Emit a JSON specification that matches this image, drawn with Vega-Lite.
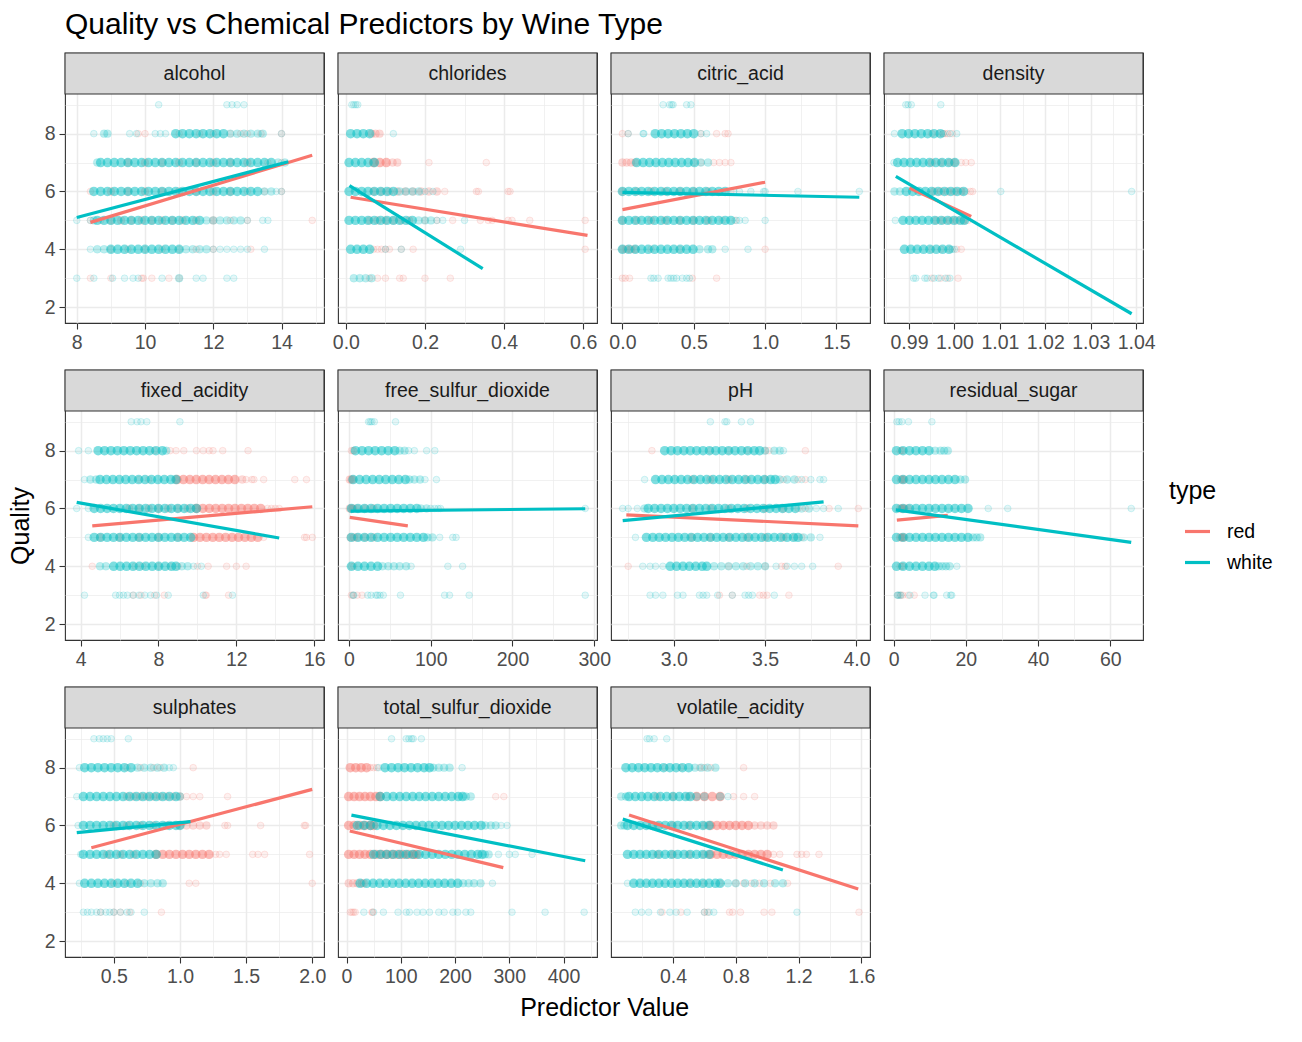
{
"$schema":"https://vega.github.io/schema/vega-lite/v6.json",
"padding":{"left":8,"top":9,"right":5,"bottom":5},
"title":{"text":"Quality vs Chemical Predictors by Wine Type","anchor":"start","frame":"group","fontSize":30,"fontWeight":"normal","color":"#000000","offset":12},
"bounds":"flush",
"spacing":{"row":47,"column":14},
"columns":4,
"resolve":{"scale":{"color":"shared"},"legend":{"color":"shared"}},
"datasets":{
"lns":[
{"p":"alcohol","type":"red","x":8.4,"q":4.93},{"p":"alcohol","type":"red","x":14.9,"q":7.25},{"p":"alcohol","type":"white","x":8.0,"q":5.10},{"p":"alcohol","type":"white","x":14.2,"q":7.03},
{"p":"chlorides","type":"red","x":0.012,"q":5.80},{"p":"chlorides","type":"red","x":0.611,"q":4.48},{"p":"chlorides","type":"white","x":0.009,"q":6.2},{"p":"chlorides","type":"white","x":0.346,"q":3.33},
{"p":"citric_acid","type":"red","x":0,"q":5.37},{"p":"citric_acid","type":"red","x":1.0,"q":6.32},{"p":"citric_acid","type":"white","x":0,"q":5.97},{"p":"citric_acid","type":"white","x":1.66,"q":5.80},
{"p":"density","type":"red","x":0.9901,"q":6.12},{"p":"density","type":"red","x":1.0037,"q":5.14},{"p":"density","type":"white","x":0.9871,"q":6.52},{"p":"density","type":"white","x":1.039,"q":1.77},
{"p":"fixed_acidity","type":"red","x":4.6,"q":5.40},{"p":"fixed_acidity","type":"red","x":15.9,"q":6.06},{"p":"fixed_acidity","type":"white","x":3.8,"q":6.21},{"p":"fixed_acidity","type":"white","x":14.2,"q":4.98},
{"p":"free_sulfur_dioxide","type":"red","x":1,"q":5.69},{"p":"free_sulfur_dioxide","type":"red","x":72,"q":5.40},{"p":"free_sulfur_dioxide","type":"white","x":2,"q":5.91},{"p":"free_sulfur_dioxide","type":"white","x":289,"q":5.99},
{"p":"pH","type":"red","x":2.74,"q":5.78},{"p":"pH","type":"red","x":4.01,"q":5.40},{"p":"pH","type":"white","x":2.72,"q":5.58},{"p":"pH","type":"white","x":3.82,"q":6.23},
{"p":"residual_sugar","type":"red","x":0.9,"q":5.60},{"p":"residual_sugar","type":"red","x":15.0,"q":5.76},{"p":"residual_sugar","type":"white","x":0.6,"q":5.95},{"p":"residual_sugar","type":"white","x":65.8,"q":4.83},
{"p":"sulphates","type":"red","x":0.33,"q":5.23},{"p":"sulphates","type":"red","x":2.0,"q":7.25},{"p":"sulphates","type":"white","x":0.22,"q":5.75},{"p":"sulphates","type":"white","x":1.08,"q":6.13},
{"p":"total_sulfur_dioxide","type":"red","x":6,"q":5.81},{"p":"total_sulfur_dioxide","type":"red","x":289,"q":4.54},{"p":"total_sulfur_dioxide","type":"white","x":9,"q":6.36},{"p":"total_sulfur_dioxide","type":"white","x":440,"q":4.78},
{"p":"volatile_acidity","type":"red","x":0.12,"q":6.36},{"p":"volatile_acidity","type":"red","x":1.58,"q":3.80},{"p":"volatile_acidity","type":"white","x":0.08,"q":6.22},{"p":"volatile_acidity","type":"white","x":1.1,"q":4.46}
],
"pts":[
{"p":"alcohol","t":"red","q":8,"n":1,"x":[9.8,10.0,11.0,11.6,12.0,12.5,12.8,13.0,13.4,14.0]},
{"p":"alcohol","t":"red","q":7,"n":3,"x":[9.5,10.0,10.5,11.0,11.5,12.0,12.5,13.0]},
{"p":"alcohol","t":"red","q":7,"n":1,"x":[13.6,14.0]},
{"p":"alcohol","t":"red","q":6,"n":3,"x":[9.0,9.5,10.0,10.5,11.0,11.5,12.0,12.5]},
{"p":"alcohol","t":"red","q":6,"n":1,"x":[8.4,13.0,13.5,14.0]},
{"p":"alcohol","t":"red","q":5,"n":3,"x":[9.0,9.3,9.6,9.9,10.2,10.5,10.8,11.1,11.5,12.0]},
{"p":"alcohol","t":"red","q":5,"n":1,"x":[8.4,8.7,12.5,13.0,14.9]},
{"p":"alcohol","t":"red","q":4,"n":1,"x":[9.0,9.5,10.0,10.5,11.0,11.5,12.0,13.1]},
{"p":"alcohol","t":"red","q":3,"n":1,"x":[8.4,9.0,9.9,9.95,10.2,10.7,11.0]},
{"p":"alcohol","t":"white","q":9,"n":1,"x":[10.4,12.4,12.55,12.7,12.9]},
{"p":"alcohol","t":"white","q":8,"n":1,"x":[8.5,9.55,9.75,10.3,10.45,10.6,14.0]},
{"p":"alcohol","t":"white","q":8,"n":3,"x":[8.8,8.9,12.5,12.7,12.9,13.1,13.3,13.45]},
{"p":"alcohol","t":"white","q":8,"n":6,"x":[10.9,11.1,11.3,11.5,11.7,11.9,12.1,12.3]},
{"p":"alcohol","t":"white","q":7,"n":6,"x":[8.7,8.9,9.1,9.3,9.5,9.7,9.9,10.1,10.3,10.5,10.7,10.9,11.1,11.3,11.5,11.7,11.9,12.1,12.3,12.5,12.7,12.9,13.1,13.3,13.5,13.7]},
{"p":"alcohol","t":"white","q":7,"n":3,"x":[8.6,13.9,14.1]},
{"p":"alcohol","t":"white","q":6,"n":6,"x":[8.5,8.7,8.9,9.1,9.3,9.5,9.7,9.9,10.1,10.3,10.5,10.7,10.9,11.1,11.3,11.5,11.7,11.9,12.1,12.3,12.5,12.7,12.9,13.1,13.3]},
{"p":"alcohol","t":"white","q":6,"n":3,"x":[13.5,13.7]},
{"p":"alcohol","t":"white","q":6,"n":1,"x":[13.85,14.0]},
{"p":"alcohol","t":"white","q":5,"n":6,"x":[8.6,8.8,9.0,9.2,9.4,9.6,9.8,10.0,10.2,10.4,10.6,10.8,11.0,11.2,11.4,11.6]},
{"p":"alcohol","t":"white","q":5,"n":3,"x":[8.5,11.8,12.0,12.2,12.4,12.6,12.8]},
{"p":"alcohol","t":"white","q":5,"n":1,"x":[8.0,8.4,13.0,13.45,13.6]},
{"p":"alcohol","t":"white","q":4,"n":6,"x":[9.0,9.2,9.4,9.6,9.8,10.0,10.2,10.4,10.6,10.8,11.0]},
{"p":"alcohol","t":"white","q":4,"n":3,"x":[8.6,8.8,11.2,11.4,11.6,11.8]},
{"p":"alcohol","t":"white","q":4,"n":1,"x":[8.4,12.0,12.2,12.4,12.6,12.8,13.0,13.5]},
{"p":"alcohol","t":"white","q":3,"n":1,"x":[8.0,8.5,9.05,9.4,9.65,9.8,10.5,11.5,11.7,12.4,12.6]},
{"p":"alcohol","t":"white","q":3,"n":3,"x":[11.0]},

{"p":"chlorides","t":"red","q":8,"n":3,"x":[0.065,0.075,0.085]},
{"p":"chlorides","t":"red","q":7,"n":6,"x":[0.07,0.086,0.102]},
{"p":"chlorides","t":"red","q":7,"n":3,"x":[0.118,0.13]},
{"p":"chlorides","t":"red","q":7,"n":1,"x":[0.21,0.355]},
{"p":"chlorides","t":"red","q":6,"n":3,"x":[0.07,0.09,0.11,0.13,0.15,0.17,0.19,0.21,0.23]},
{"p":"chlorides","t":"red","q":6,"n":1,"x":[0.25,0.33,0.335,0.41,0.415]},
{"p":"chlorides","t":"red","q":5,"n":3,"x":[0.06,0.08,0.1,0.12,0.14,0.16]},
{"p":"chlorides","t":"red","q":5,"n":1,"x":[0.2,0.23,0.27,0.34,0.36,0.37,0.41,0.42,0.465,0.605]},
{"p":"chlorides","t":"red","q":4,"n":1,"x":[0.07,0.08,0.09,0.1,0.11,0.14,0.17,0.605]},
{"p":"chlorides","t":"red","q":3,"n":1,"x":[0.06,0.08,0.1,0.136,0.145,0.2,0.264]},
{"p":"chlorides","t":"white","q":9,"n":1,"x":[0.015,0.02,0.025,0.03]},
{"p":"chlorides","t":"white","q":8,"n":6,"x":[0.012,0.028,0.044,0.06]},
{"p":"chlorides","t":"white","q":8,"n":1,"x":[0.12]},
{"p":"chlorides","t":"white","q":7,"n":6,"x":[0.008,0.024,0.04,0.056,0.072]},
{"p":"chlorides","t":"white","q":6,"n":6,"x":[0.008,0.024,0.04,0.056,0.072,0.088,0.104,0.12]},
{"p":"chlorides","t":"white","q":6,"n":3,"x":[0.136,0.152,0.168,0.184]},
{"p":"chlorides","t":"white","q":6,"n":1,"x":[0.2,0.22]},
{"p":"chlorides","t":"white","q":5,"n":6,"x":[0.008,0.024,0.04,0.056,0.072,0.088,0.104,0.12,0.136,0.152,0.168]},
{"p":"chlorides","t":"white","q":5,"n":3,"x":[0.184,0.2,0.215]},
{"p":"chlorides","t":"white","q":5,"n":1,"x":[0.23,0.245,0.3]},
{"p":"chlorides","t":"white","q":4,"n":6,"x":[0.012,0.028,0.044,0.06]},
{"p":"chlorides","t":"white","q":4,"n":1,"x":[0.1,0.14,0.29]},
{"p":"chlorides","t":"white","q":3,"n":3,"x":[0.02,0.035,0.05,0.065]},

{"p":"citric_acid","t":"red","q":8,"n":1,"x":[0,0.04,0.55,0.66,0.72,0.74]},
{"p":"citric_acid","t":"red","q":7,"n":3,"x":[0,0.03,0.06,0.09]},
{"p":"citric_acid","t":"red","q":7,"n":1,"x":[0.5,0.55,0.64,0.68,0.72,0.76]},
{"p":"citric_acid","t":"red","q":6,"n":3,"x":[0,0.1,0.2,0.3,0.4,0.5,0.6]},
{"p":"citric_acid","t":"red","q":6,"n":1,"x":[0.7,0.76]},
{"p":"citric_acid","t":"red","q":5,"n":3,"x":[0,0.1,0.2,0.3,0.4,0.5,0.6]},
{"p":"citric_acid","t":"red","q":5,"n":1,"x":[0.7,0.79]},
{"p":"citric_acid","t":"red","q":4,"n":3,"x":[0,0.03,0.06,0.09]},
{"p":"citric_acid","t":"red","q":4,"n":1,"x":[0.2,0.4,1.0]},
{"p":"citric_acid","t":"red","q":3,"n":1,"x":[0,0.02,0.05,0.49,0.66]},
{"p":"citric_acid","t":"white","q":9,"n":1,"x":[0.285,0.33,0.345,0.355,0.45,0.48]},
{"p":"citric_acid","t":"white","q":8,"n":6,"x":[0.23,0.275,0.32,0.365,0.41,0.455,0.5]},
{"p":"citric_acid","t":"white","q":8,"n":1,"x":[0.04,0.145,0.15,0.55,0.59]},
{"p":"citric_acid","t":"white","q":7,"n":6,"x":[0.1,0.145,0.19,0.235,0.28,0.325,0.37,0.415,0.46,0.505]},
{"p":"citric_acid","t":"white","q":7,"n":3,"x":[0.55,0.6]},
{"p":"citric_acid","t":"white","q":6,"n":6,"x":[0,0.045,0.09,0.135,0.18,0.225,0.27,0.315,0.36,0.405,0.45,0.495,0.54,0.585,0.63,0.675,0.72]},
{"p":"citric_acid","t":"white","q":6,"n":1,"x":[0.78,0.82,0.9,0.99,1.0,1.23,1.66]},
{"p":"citric_acid","t":"white","q":5,"n":6,"x":[0,0.045,0.09,0.135,0.18,0.225,0.27,0.315,0.36,0.405,0.45,0.495,0.54,0.585,0.63,0.675,0.72,0.76]},
{"p":"citric_acid","t":"white","q":5,"n":1,"x":[0.8,0.82,0.86,1.0]},
{"p":"citric_acid","t":"white","q":4,"n":6,"x":[0,0.045,0.09,0.135,0.18,0.225,0.27,0.315,0.36,0.405,0.45,0.495]},
{"p":"citric_acid","t":"white","q":4,"n":3,"x":[0.54,0.6,0.63]},
{"p":"citric_acid","t":"white","q":4,"n":1,"x":[0.72,0.88]},
{"p":"citric_acid","t":"white","q":3,"n":1,"x":[0.2,0.22,0.25,0.32,0.34,0.36,0.38,0.42,0.45,0.47]},

{"p":"density","t":"red","q":8,"n":1,"x":[0.995,0.9965,0.9975,0.998,0.9985,0.9995]},
{"p":"density","t":"red","q":7,"n":3,"x":[0.995,0.997,0.999,1.0]},
{"p":"density","t":"red","q":7,"n":1,"x":[1.0015,1.0025,1.0037]},
{"p":"density","t":"red","q":6,"n":3,"x":[0.9955,0.997,0.9985,1.0,1.0015]},
{"p":"density","t":"red","q":6,"n":1,"x":[1.0025,1.0035,1.004]},
{"p":"density","t":"red","q":5,"n":3,"x":[0.996,0.9975,0.999,1.0005,1.002]},
{"p":"density","t":"red","q":5,"n":1,"x":[1.003]},
{"p":"density","t":"red","q":4,"n":1,"x":[0.995,0.997,0.999,1.0005,1.0015]},
{"p":"density","t":"red","q":3,"n":1,"x":[0.995,0.997,0.9985,1.0008]},
{"p":"density","t":"white","q":9,"n":1,"x":[0.9893,0.9898,0.9905,0.997]},
{"p":"density","t":"white","q":8,"n":6,"x":[0.9885,0.9899,0.9913,0.9927,0.9941,0.9955,0.9969]},
{"p":"density","t":"white","q":8,"n":1,"x":[0.9868,0.9975,0.999,1.0005]},
{"p":"density","t":"white","q":7,"n":6,"x":[0.9875,0.9889,0.9903,0.9917,0.9931,0.9945,0.9959,0.9973,0.9987,1.0001]},
{"p":"density","t":"white","q":7,"n":1,"x":[0.9867]},
{"p":"density","t":"white","q":6,"n":3,"x":[0.9868,0.988]},
{"p":"density","t":"white","q":6,"n":6,"x":[0.9894,0.9908,0.9922,0.9936,0.995,0.9964,0.9978,0.9992,1.0006,1.002]},
{"p":"density","t":"white","q":6,"n":1,"x":[1.0102,1.039]},
{"p":"density","t":"white","q":5,"n":1,"x":[0.987]},
{"p":"density","t":"white","q":5,"n":6,"x":[0.9887,0.9901,0.9915,0.9929,0.9943,0.9957,0.9971,0.9985,0.9999,1.0013,1.0022]},
{"p":"density","t":"white","q":4,"n":6,"x":[0.989,0.9904,0.9918,0.9932,0.9946,0.996,0.9974,0.9988]},
{"p":"density","t":"white","q":4,"n":1,"x":[0.9995,1.0]},
{"p":"density","t":"white","q":3,"n":1,"x":[0.991,0.9915,0.9935,0.994,0.9955,0.9965,0.998,0.999]},

{"p":"fixed_acidity","t":"red","q":8,"n":1,"x":[7.8,8.6,8.9,9.3,9.95,10.3,10.6,10.8,11.3,12.6]},
{"p":"fixed_acidity","t":"red","q":7,"n":1,"x":[7.0,7.5,12.5,12.8,12.9,13.4,15.0,15.6]},
{"p":"fixed_acidity","t":"red","q":7,"n":6,"x":[8.95,9.28,9.61,9.94,10.27,10.6,10.93,11.26,11.59,11.92]},
{"p":"fixed_acidity","t":"red","q":7,"n":3,"x":[12.3]},
{"p":"fixed_acidity","t":"red","q":6,"n":3,"x":[6.5,7.0,7.5,8.0,8.5,9.0,9.5]},
{"p":"fixed_acidity","t":"red","q":6,"n":6,"x":[9.95,10.28,10.61,10.94,11.27,11.6,11.93,12.26,12.59,12.92,13.25]},
{"p":"fixed_acidity","t":"red","q":6,"n":1,"x":[13.6,13.8,14.0,14.2]},
{"p":"fixed_acidity","t":"red","q":5,"n":3,"x":[5.0,6.0,7.0,8.0,9.0]},
{"p":"fixed_acidity","t":"red","q":5,"n":6,"x":[9.8,10.13,10.46,10.79,11.12,11.45,11.78,12.11,12.44,12.77,13.1]},
{"p":"fixed_acidity","t":"red","q":5,"n":1,"x":[13.4,15.5,15.6,15.9]},
{"p":"fixed_acidity","t":"red","q":4,"n":1,"x":[4.6,6.8,7.2,8.0,8.6,9.0,10.0,10.55,11.5,12.0,12.5]},
{"p":"fixed_acidity","t":"red","q":3,"n":1,"x":[6.7,7.1,7.8,8.3,10.4,10.45,11.6]},
{"p":"fixed_acidity","t":"white","q":9,"n":1,"x":[6.6,6.9,7.1,7.4,9.1]},
{"p":"fixed_acidity","t":"white","q":8,"n":1,"x":[3.9,4.4]},
{"p":"fixed_acidity","t":"white","q":8,"n":6,"x":[4.9,5.23,5.56,5.89,6.22,6.55,6.88,7.21,7.54,7.87,8.2]},
{"p":"fixed_acidity","t":"white","q":8,"n":3,"x":[8.4]},
{"p":"fixed_acidity","t":"white","q":7,"n":1,"x":[4.2]},
{"p":"fixed_acidity","t":"white","q":7,"n":3,"x":[4.5,4.8]},
{"p":"fixed_acidity","t":"white","q":7,"n":6,"x":[5.0,5.33,5.66,5.99,6.32,6.65,6.98,7.31,7.64,7.97,8.3,8.63,8.9]},
{"p":"fixed_acidity","t":"white","q":6,"n":1,"x":[3.8,4.4]},
{"p":"fixed_acidity","t":"white","q":6,"n":6,"x":[4.7,5.03,5.36,5.69,6.02,6.35,6.68,7.01,7.34,7.67,8.0,8.33,8.66,8.99,9.32,9.65,9.95]},
{"p":"fixed_acidity","t":"white","q":5,"n":1,"x":[4.4]},
{"p":"fixed_acidity","t":"white","q":5,"n":6,"x":[4.7,5.03,5.36,5.69,6.02,6.35,6.68,7.01,7.34,7.67,8.0,8.33,8.66,8.99,9.32,9.65]},
{"p":"fixed_acidity","t":"white","q":4,"n":3,"x":[5.0,5.3,9.2,9.5]},
{"p":"fixed_acidity","t":"white","q":4,"n":6,"x":[5.7,6.03,6.36,6.69,7.02,7.35,7.68,8.01,8.34,8.67,8.9]},
{"p":"fixed_acidity","t":"white","q":4,"n":1,"x":[9.8,10.2]},
{"p":"fixed_acidity","t":"white","q":3,"n":1,"x":[4.2,5.8,6.0,6.2,6.4,6.7,7.0,7.3,7.6,7.9,8.5,10.3,11.8]},

{"p":"free_sulfur_dioxide","t":"red","q":8,"n":1,"x":[3,5,6]},
{"p":"free_sulfur_dioxide","t":"red","q":7,"n":3,"x":[1,3,5]},
{"p":"free_sulfur_dioxide","t":"red","q":6,"n":3,"x":[1,3,5,10,20,30]},
{"p":"free_sulfur_dioxide","t":"red","q":5,"n":3,"x":[2,6,10,20,30]},
{"p":"free_sulfur_dioxide","t":"red","q":4,"n":1,"x":[3,6]},
{"p":"free_sulfur_dioxide","t":"red","q":3,"n":1,"x":[3,5,10,16]},
{"p":"free_sulfur_dioxide","t":"white","q":9,"n":1,"x":[24,26,28,31,57]},
{"p":"free_sulfur_dioxide","t":"white","q":8,"n":6,"x":[8,16,24,32,40,48,56]},
{"p":"free_sulfur_dioxide","t":"white","q":8,"n":3,"x":[62,68]},
{"p":"free_sulfur_dioxide","t":"white","q":8,"n":1,"x":[73,80,95,105]},
{"p":"free_sulfur_dioxide","t":"white","q":7,"n":6,"x":[5,13,21,29,37,45,53,61,69]},
{"p":"free_sulfur_dioxide","t":"white","q":7,"n":3,"x":[74,80,87]},
{"p":"free_sulfur_dioxide","t":"white","q":7,"n":1,"x":[93,107]},
{"p":"free_sulfur_dioxide","t":"white","q":6,"n":6,"x":[3,11,19,27,35,43,51,59,67,75,83]},
{"p":"free_sulfur_dioxide","t":"white","q":6,"n":3,"x":[88,95]},
{"p":"free_sulfur_dioxide","t":"white","q":6,"n":1,"x":[100,105,109,112,289]},
{"p":"free_sulfur_dioxide","t":"white","q":5,"n":6,"x":[3,11,19,27,35,43,51,59,67,75,83,91]},
{"p":"free_sulfur_dioxide","t":"white","q":5,"n":3,"x":[96,102]},
{"p":"free_sulfur_dioxide","t":"white","q":5,"n":1,"x":[111,127,131]},
{"p":"free_sulfur_dioxide","t":"white","q":4,"n":6,"x":[3,11,19,27,35]},
{"p":"free_sulfur_dioxide","t":"white","q":4,"n":3,"x":[41,48,55,62,70]},
{"p":"free_sulfur_dioxide","t":"white","q":4,"n":1,"x":[76,121,139]},
{"p":"free_sulfur_dioxide","t":"white","q":3,"n":1,"x":[5,6,23,27,33,35,38,42,63,117,123,147,289]},

{"p":"pH","t":"red","q":8,"n":1,"x":[2.88,3.2,3.3,3.4,3.5,3.52,3.72]},
{"p":"pH","t":"red","q":7,"n":3,"x":[3.1,3.2,3.3,3.4,3.5]},
{"p":"pH","t":"red","q":7,"n":1,"x":[3.6,3.68,3.72]},
{"p":"pH","t":"red","q":6,"n":3,"x":[3.1,3.2,3.3,3.4,3.5,3.6]},
{"p":"pH","t":"red","q":6,"n":1,"x":[3.68,3.72,3.85,4.01]},
{"p":"pH","t":"red","q":5,"n":3,"x":[3.1,3.2,3.3,3.4,3.5,3.6]},
{"p":"pH","t":"red","q":5,"n":1,"x":[3.66,3.7]},
{"p":"pH","t":"red","q":4,"n":1,"x":[2.75,3.3,3.4,3.5,3.59,3.61,3.9]},
{"p":"pH","t":"red","q":3,"n":1,"x":[3.25,3.32,3.47,3.49,3.51,3.63]},
{"p":"pH","t":"white","q":9,"n":1,"x":[3.2,3.28,3.29,3.37,3.42]},
{"p":"pH","t":"white","q":8,"n":6,"x":[2.95,2.985,3.02,3.055,3.09,3.125,3.16,3.195,3.23,3.265,3.3,3.335,3.37,3.405,3.44,3.47]},
{"p":"pH","t":"white","q":8,"n":3,"x":[3.5,3.55,3.58]},
{"p":"pH","t":"white","q":8,"n":1,"x":[3.6]},
{"p":"pH","t":"white","q":7,"n":1,"x":[2.84,3.7,3.75,3.8,3.82]},
{"p":"pH","t":"white","q":7,"n":6,"x":[2.9,2.935,2.97,3.005,3.04,3.075,3.11,3.145,3.18,3.215,3.25,3.285,3.32,3.355,3.39,3.425,3.46,3.495,3.53,3.555]},
{"p":"pH","t":"white","q":7,"n":3,"x":[3.58,3.62,3.66]},
{"p":"pH","t":"white","q":6,"n":1,"x":[2.72,2.75,2.8,3.78,3.82,3.9]},
{"p":"pH","t":"white","q":6,"n":3,"x":[2.84,3.7,3.74]},
{"p":"pH","t":"white","q":6,"n":6,"x":[2.86,2.895,2.93,2.965,3.0,3.035,3.07,3.105,3.14,3.175,3.21,3.245,3.28,3.315,3.35,3.385,3.42,3.455,3.49,3.525,3.56,3.595,3.63,3.665]},
{"p":"pH","t":"white","q":5,"n":1,"x":[2.79,3.8]},
{"p":"pH","t":"white","q":5,"n":6,"x":[2.85,2.885,2.92,2.955,2.99,3.025,3.06,3.095,3.13,3.165,3.2,3.235,3.27,3.305,3.34,3.375,3.41,3.445,3.48,3.515,3.55,3.585,3.62,3.655,3.68]},
{"p":"pH","t":"white","q":5,"n":3,"x":[3.71,3.75]},
{"p":"pH","t":"white","q":4,"n":1,"x":[2.83,2.87,2.9,2.94,3.56,3.62,3.66,3.7,3.76]},
{"p":"pH","t":"white","q":4,"n":6,"x":[2.98,3.015,3.05,3.085,3.12,3.155,3.18]},
{"p":"pH","t":"white","q":4,"n":3,"x":[3.22,3.26,3.3,3.34,3.38,3.42,3.46,3.5]},
{"p":"pH","t":"white","q":3,"n":1,"x":[2.87,2.9,2.94,3.02,3.05,3.14,3.16,3.18,3.24,3.32,3.39,3.41,3.43,3.55]},

{"p":"residual_sugar","t":"red","q":8,"n":1,"x":[1.8,2.2,2.6]},
{"p":"residual_sugar","t":"red","q":7,"n":3,"x":[2.0,2.5,3.0]},
{"p":"residual_sugar","t":"red","q":6,"n":3,"x":[1.8,2.2,2.6,3.0,4.0]},
{"p":"residual_sugar","t":"red","q":5,"n":3,"x":[1.8,2.2,2.6,3.0]},
{"p":"residual_sugar","t":"red","q":4,"n":1,"x":[1.8,2.2,2.6]},
{"p":"residual_sugar","t":"red","q":3,"n":1,"x":[1.2,2.0,2.5,4.0,5.7]},
{"p":"residual_sugar","t":"white","q":9,"n":1,"x":[0.9,1.5,2.3,4.1,10.6]},
{"p":"residual_sugar","t":"white","q":8,"n":6,"x":[0.8,2.6,4.4,6.2,8.0,9.8]},
{"p":"residual_sugar","t":"white","q":8,"n":3,"x":[11.5,13.0,14.0,15.0]},
{"p":"residual_sugar","t":"white","q":7,"n":6,"x":[0.8,2.6,4.4,6.2,8.0,9.8,11.6,13.4,15.2,17.0]},
{"p":"residual_sugar","t":"white","q":7,"n":3,"x":[18.5,19.8]},
{"p":"residual_sugar","t":"white","q":6,"n":6,"x":[0.8,2.6,4.4,6.2,8.0,9.8,11.6,13.4,15.2,17.0,18.8,20.6]},
{"p":"residual_sugar","t":"white","q":6,"n":1,"x":[26.2,31.6,65.8]},
{"p":"residual_sugar","t":"white","q":5,"n":6,"x":[0.8,2.6,4.4,6.2,8.0,9.8,11.6,13.4,15.2,17.0,18.8,20.6]},
{"p":"residual_sugar","t":"white","q":5,"n":3,"x":[22.0,23.0,24.0]},
{"p":"residual_sugar","t":"white","q":4,"n":6,"x":[0.8,2.6,4.4,6.2,8.0,9.8,11.4]},
{"p":"residual_sugar","t":"white","q":4,"n":3,"x":[12.5,13.5,14.5,15.5]},
{"p":"residual_sugar","t":"white","q":4,"n":1,"x":[17.5]},
{"p":"residual_sugar","t":"white","q":3,"n":1,"x":[1.0,1.2,1.6,2.0,4.5,8.7,11.0,11.2,14.7,15.8,16.1]},

{"p":"sulphates","t":"red","q":8,"n":1,"x":[0.6,0.7,0.8,0.85,1.1]},
{"p":"sulphates","t":"red","q":7,"n":3,"x":[0.6,0.65,0.7,0.75,0.8,0.85,0.9,0.95,1.0]},
{"p":"sulphates","t":"red","q":7,"n":1,"x":[1.05,1.1,1.15,1.36]},
{"p":"sulphates","t":"red","q":6,"n":3,"x":[0.5,0.6,0.7,0.8,0.9,1.0,1.05,1.1,1.15,1.2]},
{"p":"sulphates","t":"red","q":6,"n":1,"x":[1.34,1.36,1.61,1.94,1.95]},
{"p":"sulphates","t":"red","q":5,"n":3,"x":[0.45,0.55,0.65]},
{"p":"sulphates","t":"red","q":5,"n":6,"x":[0.82,0.87,0.92,0.97,1.02,1.07,1.12,1.17,1.22]},
{"p":"sulphates","t":"red","q":5,"n":1,"x":[1.27,1.3,1.35,1.55,1.59,1.64,1.98]},
{"p":"sulphates","t":"red","q":4,"n":1,"x":[0.5,0.6,0.7,1.07,1.12,2.0]},
{"p":"sulphates","t":"red","q":3,"n":1,"x":[0.4,0.5,0.55,0.62,0.86]},
{"p":"sulphates","t":"white","q":9,"n":1,"x":[0.35,0.39,0.42,0.45,0.48,0.61]},
{"p":"sulphates","t":"white","q":8,"n":1,"x":[0.24,0.92,0.95]},
{"p":"sulphates","t":"white","q":8,"n":6,"x":[0.28,0.33,0.38,0.43,0.48,0.53,0.58,0.63]},
{"p":"sulphates","t":"white","q":8,"n":3,"x":[0.68,0.73,0.78,0.83,0.88]},
{"p":"sulphates","t":"white","q":7,"n":1,"x":[0.22]},
{"p":"sulphates","t":"white","q":7,"n":6,"x":[0.27,0.32,0.37,0.42,0.47,0.52,0.57,0.62,0.67,0.72,0.77,0.82,0.87,0.92,0.97]},
{"p":"sulphates","t":"white","q":7,"n":3,"x":[1.0]},
{"p":"sulphates","t":"white","q":6,"n":1,"x":[0.23]},
{"p":"sulphates","t":"white","q":6,"n":6,"x":[0.27,0.32,0.37,0.42,0.47,0.52,0.57,0.62,0.67,0.72,0.77,0.82,0.87,0.92,0.97,1.0]},
{"p":"sulphates","t":"white","q":5,"n":1,"x":[0.25]},
{"p":"sulphates","t":"white","q":5,"n":6,"x":[0.27,0.32,0.37,0.42,0.47,0.52,0.57,0.62,0.67,0.72,0.77,0.82]},
{"p":"sulphates","t":"white","q":4,"n":1,"x":[0.24]},
{"p":"sulphates","t":"white","q":4,"n":6,"x":[0.28,0.33,0.38,0.43,0.48,0.53,0.58,0.63,0.68]},
{"p":"sulphates","t":"white","q":4,"n":3,"x":[0.73,0.78,0.83,0.87]},
{"p":"sulphates","t":"white","q":3,"n":1,"x":[0.27,0.3,0.33,0.37,0.4,0.44,0.47,0.5,0.55,0.6,0.63,0.73]},

{"p":"total_sulfur_dioxide","t":"red","q":8,"n":6,"x":[7,17,27,37]},
{"p":"total_sulfur_dioxide","t":"red","q":8,"n":1,"x":[44,50,56]},
{"p":"total_sulfur_dioxide","t":"red","q":7,"n":6,"x":[4,14,24,34,44,54,62]},
{"p":"total_sulfur_dioxide","t":"red","q":7,"n":1,"x":[275,290]},
{"p":"total_sulfur_dioxide","t":"red","q":6,"n":6,"x":[4,14,24,34,44,50]},
{"p":"total_sulfur_dioxide","t":"red","q":5,"n":6,"x":[4,14,24,34,44,54,64,74,84,94,104,114,124,129]},
{"p":"total_sulfur_dioxide","t":"red","q":4,"n":3,"x":[4,12,20,28,32]},
{"p":"total_sulfur_dioxide","t":"red","q":3,"n":1,"x":[7,10,13,16,47,48]},
{"p":"total_sulfur_dioxide","t":"white","q":9,"n":1,"x":[83,110,115,120,123,138]},
{"p":"total_sulfur_dioxide","t":"white","q":8,"n":1,"x":[59,213]},
{"p":"total_sulfur_dioxide","t":"white","q":8,"n":6,"x":[71,83,95,107,119,131,143,153]},
{"p":"total_sulfur_dioxide","t":"white","q":8,"n":3,"x":[160,170,180,190]},
{"p":"total_sulfur_dioxide","t":"white","q":7,"n":6,"x":[62,74,86,98,110,122,134,146,158,170,182,194,206,214]},
{"p":"total_sulfur_dioxide","t":"white","q":7,"n":3,"x":[220,229]},
{"p":"total_sulfur_dioxide","t":"white","q":6,"n":6,"x":[20,32,44,56,68,80,92,104,116,128,140,152,164,176,188,200,212,224,236,248]},
{"p":"total_sulfur_dioxide","t":"white","q":6,"n":3,"x":[256,266,275]},
{"p":"total_sulfur_dioxide","t":"white","q":6,"n":1,"x":[285,296]},
{"p":"total_sulfur_dioxide","t":"white","q":5,"n":6,"x":[50,62,74,86,98,110,122,134,146,158,170,182,194,206,218,230,242,250]},
{"p":"total_sulfur_dioxide","t":"white","q":5,"n":3,"x":[255,262]},
{"p":"total_sulfur_dioxide","t":"white","q":5,"n":1,"x":[280,300,311,342]},
{"p":"total_sulfur_dioxide","t":"white","q":4,"n":6,"x":[25,37,49,61,73,85,97,109,121,133,145,157,169,181,193,205]},
{"p":"total_sulfur_dioxide","t":"white","q":4,"n":3,"x":[215,225,235,247]},
{"p":"total_sulfur_dioxide","t":"white","q":4,"n":1,"x":[269]},
{"p":"total_sulfur_dioxide","t":"white","q":3,"n":1,"x":[32,50,68,95,110,116,130,141,153,170,180,196,205,220,229,305,366,438]},

{"p":"volatile_acidity","t":"red","q":8,"n":1,"x":[0.35,0.45,0.57,0.6,0.64,0.85]},
{"p":"volatile_acidity","t":"red","q":7,"n":3,"x":[0.3,0.4,0.5]},
{"p":"volatile_acidity","t":"red","q":7,"n":6,"x":[0.55,0.6,0.65,0.7]},
{"p":"volatile_acidity","t":"red","q":7,"n":1,"x":[0.785,0.85,0.92]},
{"p":"volatile_acidity","t":"red","q":6,"n":3,"x":[0.3,0.4,0.5,0.6,0.92,0.96,1.0,1.04]},
{"p":"volatile_acidity","t":"red","q":6,"n":6,"x":[0.64,0.68,0.72,0.76,0.8,0.84,0.88]},
{"p":"volatile_acidity","t":"red","q":5,"n":3,"x":[0.3,0.4,0.5,0.6]},
{"p":"volatile_acidity","t":"red","q":5,"n":6,"x":[0.64,0.68,0.72,0.76,0.8,0.84,0.88,0.92,0.96,1.0]},
{"p":"volatile_acidity","t":"red","q":5,"n":1,"x":[1.04,1.08,1.19,1.22,1.25,1.33]},
{"p":"volatile_acidity","t":"red","q":4,"n":1,"x":[0.5,0.6,0.7,0.8,0.85,0.9,0.95,1.02,1.13]},
{"p":"volatile_acidity","t":"red","q":3,"n":1,"x":[0.33,0.45,0.6,0.62,0.76,0.78,0.83,0.98,1.03,1.585]},
{"p":"volatile_acidity","t":"white","q":9,"n":1,"x":[0.235,0.25,0.28,0.36]},
{"p":"volatile_acidity","t":"white","q":8,"n":6,"x":[0.1,0.14,0.18,0.22,0.26,0.3,0.34,0.38,0.42,0.46,0.5]},
{"p":"volatile_acidity","t":"white","q":8,"n":3,"x":[0.54,0.58,0.62,0.67]},
{"p":"volatile_acidity","t":"white","q":7,"n":3,"x":[0.07,0.1,0.55,0.6,0.7]},
{"p":"volatile_acidity","t":"white","q":7,"n":6,"x":[0.12,0.16,0.2,0.24,0.28,0.32,0.36,0.4,0.44,0.48,0.51]},
{"p":"volatile_acidity","t":"white","q":7,"n":1,"x":[0.75]},
{"p":"volatile_acidity","t":"white","q":6,"n":3,"x":[0.07,0.09]},
{"p":"volatile_acidity","t":"white","q":6,"n":6,"x":[0.11,0.15,0.19,0.23,0.27,0.31,0.35,0.39,0.43,0.47,0.51,0.55,0.59,0.63]},
{"p":"volatile_acidity","t":"white","q":5,"n":6,"x":[0.11,0.15,0.19,0.23,0.27,0.31,0.35,0.39,0.43,0.47,0.51,0.55,0.59,0.63]},
{"p":"volatile_acidity","t":"white","q":4,"n":1,"x":[0.11]},
{"p":"volatile_acidity","t":"white","q":4,"n":6,"x":[0.15,0.19,0.23,0.27,0.31,0.35,0.39,0.43,0.47,0.51,0.55,0.59,0.63,0.67,0.7]},
{"p":"volatile_acidity","t":"white","q":4,"n":3,"x":[0.75,0.8,0.86,0.92,0.98,1.05,1.1]},
{"p":"volatile_acidity","t":"white","q":3,"n":1,"x":[0.16,0.2,0.245,0.32,0.38,0.42,0.49,0.6,0.63,0.66,1.19]}
]
},
"concat":[
{"width":259,"height":270,"resolve":{"axis":{"x":"independent","y":"independent"}},"layer":[
{"data":{"values":[{"s":"alcohol"}]},"mark":{"type":"rect","fill":"#D9D9D9","stroke":"#333333","strokeWidth":1.1},"encoding":{"x":{"datum":7.655,"type":"quantitative","axis":null},"x2":{"datum":15.245},"y":{"datum":9.372,"type":"quantitative","axis":null},"y2":{"datum":10.79}}},
{"data":{"values":[{"s":"alcohol"}]},"mark":{"type":"text","fontSize":19.5,"color":"#1A1A1A","baseline":"middle"},"encoding":{"x":{"datum":11.45,"type":"quantitative","axis":null},"y":{"datum":10.08,"type":"quantitative","axis":null},"text":{"field":"s"}}},
{"data":{"name":"pts"},"transform":[{"filter":"datum.p=='alcohol'"},{"flatten":["x"]}],"mark":{"type":"point","filled":true,"strokeWidth":0.7},"encoding":{
"x":{"field":"x","type":"quantitative","scale":{"domain":[7.655,15.245],"nice":false,"zero":false},"axis":{"values":[8,10,12,14],"grid":true,"gridWidth":1.5,"title":null}},
"y":{"field":"q","type":"quantitative","scale":{"domain":[1.45,10.79],"nice":false,"zero":false},"axis":{"values":[2,4,6,8],"grid":true,"gridWidth":1.5,"title":null}},
"fill":{"field":"t","type":"nominal","scale":{"range":["#F8766D","#00BFC4"]},"legend":null},
"stroke":{"field":"t","type":"nominal","scale":{"range":["#F8766D","#00BFC4"]},"legend":null},
"size":{"field":"n","type":"quantitative","scale":{"domain":[1,6],"range":[44,90]},"legend":null},
"fillOpacity":{"field":"n","type":"quantitative","scale":{"domain":[1,6],"range":[0.15,0.72]},"legend":null},
"strokeOpacity":{"field":"n","type":"quantitative","scale":{"domain":[1,6],"range":[0.35,0]},"legend":null}}},
{"data":{"name":"lns"},"transform":[{"filter":"datum.p=='alcohol'"}],"mark":{"type":"line","strokeWidth":3.2},"encoding":{"x":{"field":"x","type":"quantitative","axis":{"values":[9,11,13,15],"grid":true,"gridWidth":0.7,"labels":false,"ticks":false,"domain":false,"title":null,"orient":"top"}},"y":{"field":"q","type":"quantitative","axis":{"values":[3,5,7,9],"grid":true,"gridWidth":0.7,"labels":false,"ticks":false,"domain":false,"title":null,"orient":"right"}},"color":{"field":"type","type":"nominal","scale":{"domain":["red","white"],"range":["#F8766D","#00BFC4"]},"legend":{"title":"type","orient":"none","legendX":1104,"legendY":426}}}}
]},
{"width":259,"height":270,"resolve":{"axis":{"x":"independent","y":"independent"}},"layer":[
{"data":{"values":[{"s":"chlorides"}]},"mark":{"type":"rect","fill":"#D9D9D9","stroke":"#333333","strokeWidth":1.1},"encoding":{"x":{"datum":-0.02,"type":"quantitative","axis":null},"x2":{"datum":0.635},"y":{"datum":9.372,"type":"quantitative","axis":null},"y2":{"datum":10.79}}},
{"data":{"values":[{"s":"chlorides"}]},"mark":{"type":"text","fontSize":19.5,"color":"#1A1A1A","baseline":"middle"},"encoding":{"x":{"datum":0.3075,"type":"quantitative","axis":null},"y":{"datum":10.08,"type":"quantitative","axis":null},"text":{"field":"s"}}},
{"data":{"name":"pts"},"transform":[{"filter":"datum.p=='chlorides'"},{"flatten":["x"]}],"mark":{"type":"point","filled":true,"strokeWidth":0.7},"encoding":{
"x":{"field":"x","type":"quantitative","scale":{"domain":[-0.02,0.635],"nice":false,"zero":false},"axis":{"values":[0,0.2,0.4,0.6],"format":".1f","grid":true,"gridWidth":1.5,"title":null}},
"y":{"field":"q","type":"quantitative","scale":{"domain":[1.45,10.79],"nice":false,"zero":false},"axis":{"values":[2,4,6,8],"grid":true,"gridWidth":1.5,"labels":false,"ticks":false,"title":null}},
"fill":{"field":"t","type":"nominal","scale":{"range":["#F8766D","#00BFC4"]},"legend":null},
"stroke":{"field":"t","type":"nominal","scale":{"range":["#F8766D","#00BFC4"]},"legend":null},
"size":{"field":"n","type":"quantitative","scale":{"domain":[1,6],"range":[44,90]},"legend":null},
"fillOpacity":{"field":"n","type":"quantitative","scale":{"domain":[1,6],"range":[0.15,0.72]},"legend":null},
"strokeOpacity":{"field":"n","type":"quantitative","scale":{"domain":[1,6],"range":[0.35,0]},"legend":null}}},
{"data":{"name":"lns"},"transform":[{"filter":"datum.p=='chlorides'"}],"mark":{"type":"line","strokeWidth":3.2},"encoding":{"x":{"field":"x","type":"quantitative","axis":{"values":[0.1,0.3,0.5],"grid":true,"gridWidth":0.7,"labels":false,"ticks":false,"domain":false,"title":null,"orient":"top"}},"y":{"field":"q","type":"quantitative","axis":{"values":[3,5,7,9],"grid":true,"gridWidth":0.7,"labels":false,"ticks":false,"domain":false,"title":null,"orient":"right"}},"color":{"field":"type","type":"nominal","scale":{"domain":["red","white"],"range":["#F8766D","#00BFC4"]},"legend":{"title":"type","orient":"none","legendX":1104,"legendY":426}}}}
]},
{"width":259,"height":270,"resolve":{"axis":{"x":"independent","y":"independent"}},"layer":[
{"data":{"values":[{"s":"citric_acid"}]},"mark":{"type":"rect","fill":"#D9D9D9","stroke":"#333333","strokeWidth":1.1},"encoding":{"x":{"datum":-0.08,"type":"quantitative","axis":null},"x2":{"datum":1.735},"y":{"datum":9.372,"type":"quantitative","axis":null},"y2":{"datum":10.79}}},
{"data":{"values":[{"s":"citric_acid"}]},"mark":{"type":"text","fontSize":19.5,"color":"#1A1A1A","baseline":"middle"},"encoding":{"x":{"datum":0.8275,"type":"quantitative","axis":null},"y":{"datum":10.08,"type":"quantitative","axis":null},"text":{"field":"s"}}},
{"data":{"name":"pts"},"transform":[{"filter":"datum.p=='citric_acid'"},{"flatten":["x"]}],"mark":{"type":"point","filled":true,"strokeWidth":0.7},"encoding":{
"x":{"field":"x","type":"quantitative","scale":{"domain":[-0.08,1.735],"nice":false,"zero":false},"axis":{"values":[0,0.5,1,1.5],"format":".1f","grid":true,"gridWidth":1.5,"title":null}},
"y":{"field":"q","type":"quantitative","scale":{"domain":[1.45,10.79],"nice":false,"zero":false},"axis":{"values":[2,4,6,8],"grid":true,"gridWidth":1.5,"labels":false,"ticks":false,"title":null}},
"fill":{"field":"t","type":"nominal","scale":{"range":["#F8766D","#00BFC4"]},"legend":null},
"stroke":{"field":"t","type":"nominal","scale":{"range":["#F8766D","#00BFC4"]},"legend":null},
"size":{"field":"n","type":"quantitative","scale":{"domain":[1,6],"range":[44,90]},"legend":null},
"fillOpacity":{"field":"n","type":"quantitative","scale":{"domain":[1,6],"range":[0.15,0.72]},"legend":null},
"strokeOpacity":{"field":"n","type":"quantitative","scale":{"domain":[1,6],"range":[0.35,0]},"legend":null}}},
{"data":{"name":"lns"},"transform":[{"filter":"datum.p=='citric_acid'"}],"mark":{"type":"line","strokeWidth":3.2},"encoding":{"x":{"field":"x","type":"quantitative","axis":{"values":[0.25,0.75,1.25],"grid":true,"gridWidth":0.7,"labels":false,"ticks":false,"domain":false,"title":null,"orient":"top"}},"y":{"field":"q","type":"quantitative","axis":{"values":[3,5,7,9],"grid":true,"gridWidth":0.7,"labels":false,"ticks":false,"domain":false,"title":null,"orient":"right"}},"color":{"field":"type","type":"nominal","scale":{"domain":["red","white"],"range":["#F8766D","#00BFC4"]},"legend":{"title":"type","orient":"none","legendX":1104,"legendY":426}}}}
]},
{"width":259,"height":270,"resolve":{"axis":{"x":"independent","y":"independent"}},"layer":[
{"data":{"values":[{"s":"density"}]},"mark":{"type":"rect","fill":"#D9D9D9","stroke":"#333333","strokeWidth":1.1},"encoding":{"x":{"datum":0.9845,"type":"quantitative","axis":null},"x2":{"datum":1.0415},"y":{"datum":9.372,"type":"quantitative","axis":null},"y2":{"datum":10.79}}},
{"data":{"values":[{"s":"density"}]},"mark":{"type":"text","fontSize":19.5,"color":"#1A1A1A","baseline":"middle"},"encoding":{"x":{"datum":1.013,"type":"quantitative","axis":null},"y":{"datum":10.08,"type":"quantitative","axis":null},"text":{"field":"s"}}},
{"data":{"name":"pts"},"transform":[{"filter":"datum.p=='density'"},{"flatten":["x"]}],"mark":{"type":"point","filled":true,"strokeWidth":0.7},"encoding":{
"x":{"field":"x","type":"quantitative","scale":{"domain":[0.9845,1.0415],"nice":false,"zero":false},"axis":{"values":[0.99,1,1.01,1.02,1.03,1.04],"format":".2f","grid":true,"gridWidth":1.5,"title":null}},
"y":{"field":"q","type":"quantitative","scale":{"domain":[1.45,10.79],"nice":false,"zero":false},"axis":{"values":[2,4,6,8],"grid":true,"gridWidth":1.5,"labels":false,"ticks":false,"title":null}},
"fill":{"field":"t","type":"nominal","scale":{"range":["#F8766D","#00BFC4"]},"legend":null},
"stroke":{"field":"t","type":"nominal","scale":{"range":["#F8766D","#00BFC4"]},"legend":null},
"size":{"field":"n","type":"quantitative","scale":{"domain":[1,6],"range":[44,90]},"legend":null},
"fillOpacity":{"field":"n","type":"quantitative","scale":{"domain":[1,6],"range":[0.15,0.72]},"legend":null},
"strokeOpacity":{"field":"n","type":"quantitative","scale":{"domain":[1,6],"range":[0.35,0]},"legend":null}}},
{"data":{"name":"lns"},"transform":[{"filter":"datum.p=='density'"}],"mark":{"type":"line","strokeWidth":3.2},"encoding":{"x":{"field":"x","type":"quantitative","axis":{"values":[0.985,0.995,1.005,1.015,1.025,1.035],"grid":true,"gridWidth":0.7,"labels":false,"ticks":false,"domain":false,"title":null,"orient":"top"}},"y":{"field":"q","type":"quantitative","axis":{"values":[3,5,7,9],"grid":true,"gridWidth":0.7,"labels":false,"ticks":false,"domain":false,"title":null,"orient":"right"}},"color":{"field":"type","type":"nominal","scale":{"domain":["red","white"],"range":["#F8766D","#00BFC4"]},"legend":{"title":"type","orient":"none","legendX":1104,"legendY":426}}}}
]},
{"width":259,"height":270,"resolve":{"axis":{"x":"independent","y":"independent"}},"layer":[
{"data":{"values":[{"s":"fixed_acidity"}]},"mark":{"type":"rect","fill":"#D9D9D9","stroke":"#333333","strokeWidth":1.1},"encoding":{"x":{"datum":3.2,"type":"quantitative","axis":null},"x2":{"datum":16.5},"y":{"datum":9.372,"type":"quantitative","axis":null},"y2":{"datum":10.79}}},
{"data":{"values":[{"s":"fixed_acidity"}]},"mark":{"type":"text","fontSize":19.5,"color":"#1A1A1A","baseline":"middle"},"encoding":{"x":{"datum":9.85,"type":"quantitative","axis":null},"y":{"datum":10.08,"type":"quantitative","axis":null},"text":{"field":"s"}}},
{"data":{"name":"pts"},"transform":[{"filter":"datum.p=='fixed_acidity'"},{"flatten":["x"]}],"mark":{"type":"point","filled":true,"strokeWidth":0.7},"encoding":{
"x":{"field":"x","type":"quantitative","scale":{"domain":[3.2,16.5],"nice":false,"zero":false},"axis":{"values":[4,8,12,16],"grid":true,"gridWidth":1.5,"title":null}},
"y":{"field":"q","type":"quantitative","scale":{"domain":[1.45,10.79],"nice":false,"zero":false},"axis":{"values":[2,4,6,8],"grid":true,"gridWidth":1.5,"title":"Quality","titleY":155.5,"titlePadding":10.5}},
"fill":{"field":"t","type":"nominal","scale":{"range":["#F8766D","#00BFC4"]},"legend":null},
"stroke":{"field":"t","type":"nominal","scale":{"range":["#F8766D","#00BFC4"]},"legend":null},
"size":{"field":"n","type":"quantitative","scale":{"domain":[1,6],"range":[44,90]},"legend":null},
"fillOpacity":{"field":"n","type":"quantitative","scale":{"domain":[1,6],"range":[0.15,0.72]},"legend":null},
"strokeOpacity":{"field":"n","type":"quantitative","scale":{"domain":[1,6],"range":[0.35,0]},"legend":null}}},
{"data":{"name":"lns"},"transform":[{"filter":"datum.p=='fixed_acidity'"}],"mark":{"type":"line","strokeWidth":3.2},"encoding":{"x":{"field":"x","type":"quantitative","axis":{"values":[6,10,14],"grid":true,"gridWidth":0.7,"labels":false,"ticks":false,"domain":false,"title":null,"orient":"top"}},"y":{"field":"q","type":"quantitative","axis":{"values":[3,5,7,9],"grid":true,"gridWidth":0.7,"labels":false,"ticks":false,"domain":false,"title":null,"orient":"right"}},"color":{"field":"type","type":"nominal","scale":{"domain":["red","white"],"range":["#F8766D","#00BFC4"]},"legend":{"title":"type","orient":"none","legendX":1104,"legendY":426}}}}
]},
{"width":259,"height":270,"resolve":{"axis":{"x":"independent","y":"independent"}},"layer":[
{"data":{"values":[{"s":"free_sulfur_dioxide"}]},"mark":{"type":"rect","fill":"#D9D9D9","stroke":"#333333","strokeWidth":1.1},"encoding":{"x":{"datum":-13.4,"type":"quantitative","axis":null},"x2":{"datum":303.4},"y":{"datum":9.372,"type":"quantitative","axis":null},"y2":{"datum":10.79}}},
{"data":{"values":[{"s":"free_sulfur_dioxide"}]},"mark":{"type":"text","fontSize":19.5,"color":"#1A1A1A","baseline":"middle"},"encoding":{"x":{"datum":145,"type":"quantitative","axis":null},"y":{"datum":10.08,"type":"quantitative","axis":null},"text":{"field":"s"}}},
{"data":{"name":"pts"},"transform":[{"filter":"datum.p=='free_sulfur_dioxide'"},{"flatten":["x"]}],"mark":{"type":"point","filled":true,"strokeWidth":0.7},"encoding":{
"x":{"field":"x","type":"quantitative","scale":{"domain":[-13.4,303.4],"nice":false,"zero":false},"axis":{"values":[0,100,200,300],"grid":true,"gridWidth":1.5,"title":null}},
"y":{"field":"q","type":"quantitative","scale":{"domain":[1.45,10.79],"nice":false,"zero":false},"axis":{"values":[2,4,6,8],"grid":true,"gridWidth":1.5,"labels":false,"ticks":false,"title":null}},
"fill":{"field":"t","type":"nominal","scale":{"range":["#F8766D","#00BFC4"]},"legend":null},
"stroke":{"field":"t","type":"nominal","scale":{"range":["#F8766D","#00BFC4"]},"legend":null},
"size":{"field":"n","type":"quantitative","scale":{"domain":[1,6],"range":[44,90]},"legend":null},
"fillOpacity":{"field":"n","type":"quantitative","scale":{"domain":[1,6],"range":[0.15,0.72]},"legend":null},
"strokeOpacity":{"field":"n","type":"quantitative","scale":{"domain":[1,6],"range":[0.35,0]},"legend":null}}},
{"data":{"name":"lns"},"transform":[{"filter":"datum.p=='free_sulfur_dioxide'"}],"mark":{"type":"line","strokeWidth":3.2},"encoding":{"x":{"field":"x","type":"quantitative","axis":{"values":[50,150,250],"grid":true,"gridWidth":0.7,"labels":false,"ticks":false,"domain":false,"title":null,"orient":"top"}},"y":{"field":"q","type":"quantitative","axis":{"values":[3,5,7,9],"grid":true,"gridWidth":0.7,"labels":false,"ticks":false,"domain":false,"title":null,"orient":"right"}},"color":{"field":"type","type":"nominal","scale":{"domain":["red","white"],"range":["#F8766D","#00BFC4"]},"legend":{"title":"type","orient":"none","legendX":1104,"legendY":426}}}}
]},
{"width":259,"height":270,"resolve":{"axis":{"x":"independent","y":"independent"}},"layer":[
{"data":{"values":[{"s":"pH"}]},"mark":{"type":"rect","fill":"#D9D9D9","stroke":"#333333","strokeWidth":1.1},"encoding":{"x":{"datum":2.656,"type":"quantitative","axis":null},"x2":{"datum":4.074},"y":{"datum":9.372,"type":"quantitative","axis":null},"y2":{"datum":10.79}}},
{"data":{"values":[{"s":"pH"}]},"mark":{"type":"text","fontSize":19.5,"color":"#1A1A1A","baseline":"middle"},"encoding":{"x":{"datum":3.365,"type":"quantitative","axis":null},"y":{"datum":10.08,"type":"quantitative","axis":null},"text":{"field":"s"}}},
{"data":{"name":"pts"},"transform":[{"filter":"datum.p=='pH'"},{"flatten":["x"]}],"mark":{"type":"point","filled":true,"strokeWidth":0.7},"encoding":{
"x":{"field":"x","type":"quantitative","scale":{"domain":[2.656,4.074],"nice":false,"zero":false},"axis":{"values":[3,3.5,4],"format":".1f","grid":true,"gridWidth":1.5,"title":null}},
"y":{"field":"q","type":"quantitative","scale":{"domain":[1.45,10.79],"nice":false,"zero":false},"axis":{"values":[2,4,6,8],"grid":true,"gridWidth":1.5,"labels":false,"ticks":false,"title":null}},
"fill":{"field":"t","type":"nominal","scale":{"range":["#F8766D","#00BFC4"]},"legend":null},
"stroke":{"field":"t","type":"nominal","scale":{"range":["#F8766D","#00BFC4"]},"legend":null},
"size":{"field":"n","type":"quantitative","scale":{"domain":[1,6],"range":[44,90]},"legend":null},
"fillOpacity":{"field":"n","type":"quantitative","scale":{"domain":[1,6],"range":[0.15,0.72]},"legend":null},
"strokeOpacity":{"field":"n","type":"quantitative","scale":{"domain":[1,6],"range":[0.35,0]},"legend":null}}},
{"data":{"name":"lns"},"transform":[{"filter":"datum.p=='pH'"}],"mark":{"type":"line","strokeWidth":3.2},"encoding":{"x":{"field":"x","type":"quantitative","axis":{"values":[2.75,3.25,3.75],"grid":true,"gridWidth":0.7,"labels":false,"ticks":false,"domain":false,"title":null,"orient":"top"}},"y":{"field":"q","type":"quantitative","axis":{"values":[3,5,7,9],"grid":true,"gridWidth":0.7,"labels":false,"ticks":false,"domain":false,"title":null,"orient":"right"}},"color":{"field":"type","type":"nominal","scale":{"domain":["red","white"],"range":["#F8766D","#00BFC4"]},"legend":{"title":"type","orient":"none","legendX":1104,"legendY":426}}}}
]},
{"width":259,"height":270,"resolve":{"axis":{"x":"independent","y":"independent"}},"layer":[
{"data":{"values":[{"s":"residual_sugar"}]},"mark":{"type":"rect","fill":"#D9D9D9","stroke":"#333333","strokeWidth":1.1},"encoding":{"x":{"datum":-2.66,"type":"quantitative","axis":null},"x2":{"datum":69.06},"y":{"datum":9.372,"type":"quantitative","axis":null},"y2":{"datum":10.79}}},
{"data":{"values":[{"s":"residual_sugar"}]},"mark":{"type":"text","fontSize":19.5,"color":"#1A1A1A","baseline":"middle"},"encoding":{"x":{"datum":33.2,"type":"quantitative","axis":null},"y":{"datum":10.08,"type":"quantitative","axis":null},"text":{"field":"s"}}},
{"data":{"name":"pts"},"transform":[{"filter":"datum.p=='residual_sugar'"},{"flatten":["x"]}],"mark":{"type":"point","filled":true,"strokeWidth":0.7},"encoding":{
"x":{"field":"x","type":"quantitative","scale":{"domain":[-2.66,69.06],"nice":false,"zero":false},"axis":{"values":[0,20,40,60],"grid":true,"gridWidth":1.5,"title":null}},
"y":{"field":"q","type":"quantitative","scale":{"domain":[1.45,10.79],"nice":false,"zero":false},"axis":{"values":[2,4,6,8],"grid":true,"gridWidth":1.5,"labels":false,"ticks":false,"title":null}},
"fill":{"field":"t","type":"nominal","scale":{"range":["#F8766D","#00BFC4"]},"legend":null},
"stroke":{"field":"t","type":"nominal","scale":{"range":["#F8766D","#00BFC4"]},"legend":null},
"size":{"field":"n","type":"quantitative","scale":{"domain":[1,6],"range":[44,90]},"legend":null},
"fillOpacity":{"field":"n","type":"quantitative","scale":{"domain":[1,6],"range":[0.15,0.72]},"legend":null},
"strokeOpacity":{"field":"n","type":"quantitative","scale":{"domain":[1,6],"range":[0.35,0]},"legend":null}}},
{"data":{"name":"lns"},"transform":[{"filter":"datum.p=='residual_sugar'"}],"mark":{"type":"line","strokeWidth":3.2},"encoding":{"x":{"field":"x","type":"quantitative","axis":{"values":[10,30,50],"grid":true,"gridWidth":0.7,"labels":false,"ticks":false,"domain":false,"title":null,"orient":"top"}},"y":{"field":"q","type":"quantitative","axis":{"values":[3,5,7,9],"grid":true,"gridWidth":0.7,"labels":false,"ticks":false,"domain":false,"title":null,"orient":"right"}},"color":{"field":"type","type":"nominal","scale":{"domain":["red","white"],"range":["#F8766D","#00BFC4"]},"legend":{"title":"type","orient":"none","legendX":1104,"legendY":426}}}}
]},
{"width":259,"height":270,"resolve":{"axis":{"x":"independent","y":"independent"}},"layer":[
{"data":{"values":[{"s":"sulphates"}]},"mark":{"type":"rect","fill":"#D9D9D9","stroke":"#333333","strokeWidth":1.1},"encoding":{"x":{"datum":0.131,"type":"quantitative","axis":null},"x2":{"datum":2.089},"y":{"datum":9.372,"type":"quantitative","axis":null},"y2":{"datum":10.79}}},
{"data":{"values":[{"s":"sulphates"}]},"mark":{"type":"text","fontSize":19.5,"color":"#1A1A1A","baseline":"middle"},"encoding":{"x":{"datum":1.11,"type":"quantitative","axis":null},"y":{"datum":10.08,"type":"quantitative","axis":null},"text":{"field":"s"}}},
{"data":{"name":"pts"},"transform":[{"filter":"datum.p=='sulphates'"},{"flatten":["x"]}],"mark":{"type":"point","filled":true,"strokeWidth":0.7},"encoding":{
"x":{"field":"x","type":"quantitative","scale":{"domain":[0.131,2.089],"nice":false,"zero":false},"axis":{"values":[0.5,1,1.5,2],"format":".1f","grid":true,"gridWidth":1.5,"title":null}},
"y":{"field":"q","type":"quantitative","scale":{"domain":[1.45,10.79],"nice":false,"zero":false},"axis":{"values":[2,4,6,8],"grid":true,"gridWidth":1.5,"title":null}},
"fill":{"field":"t","type":"nominal","scale":{"range":["#F8766D","#00BFC4"]},"legend":null},
"stroke":{"field":"t","type":"nominal","scale":{"range":["#F8766D","#00BFC4"]},"legend":null},
"size":{"field":"n","type":"quantitative","scale":{"domain":[1,6],"range":[44,90]},"legend":null},
"fillOpacity":{"field":"n","type":"quantitative","scale":{"domain":[1,6],"range":[0.15,0.72]},"legend":null},
"strokeOpacity":{"field":"n","type":"quantitative","scale":{"domain":[1,6],"range":[0.35,0]},"legend":null}}},
{"data":{"name":"lns"},"transform":[{"filter":"datum.p=='sulphates'"}],"mark":{"type":"line","strokeWidth":3.2},"encoding":{"x":{"field":"x","type":"quantitative","axis":{"values":[0.25,0.75,1.25,1.75],"grid":true,"gridWidth":0.7,"labels":false,"ticks":false,"domain":false,"title":null,"orient":"top"}},"y":{"field":"q","type":"quantitative","axis":{"values":[3,5,7,9],"grid":true,"gridWidth":0.7,"labels":false,"ticks":false,"domain":false,"title":null,"orient":"right"}},"color":{"field":"type","type":"nominal","scale":{"domain":["red","white"],"range":["#F8766D","#00BFC4"]},"legend":{"title":"type","orient":"none","legendX":1104,"legendY":426}}}}
]},
{"width":259,"height":270,"resolve":{"axis":{"x":"independent","y":"independent"}},"layer":[
{"data":{"values":[{"s":"total_sulfur_dioxide"}]},"mark":{"type":"rect","fill":"#D9D9D9","stroke":"#333333","strokeWidth":1.1},"encoding":{"x":{"datum":-15.7,"type":"quantitative","axis":null},"x2":{"datum":461.7},"y":{"datum":9.372,"type":"quantitative","axis":null},"y2":{"datum":10.79}}},
{"data":{"values":[{"s":"total_sulfur_dioxide"}]},"mark":{"type":"text","fontSize":19.5,"color":"#1A1A1A","baseline":"middle"},"encoding":{"x":{"datum":223,"type":"quantitative","axis":null},"y":{"datum":10.08,"type":"quantitative","axis":null},"text":{"field":"s"}}},
{"data":{"name":"pts"},"transform":[{"filter":"datum.p=='total_sulfur_dioxide'"},{"flatten":["x"]}],"mark":{"type":"point","filled":true,"strokeWidth":0.7},"encoding":{
"x":{"field":"x","type":"quantitative","scale":{"domain":[-15.7,461.7],"nice":false,"zero":false},"axis":{"values":[0,100,200,300,400],"grid":true,"gridWidth":1.5,"title":"Predictor Value","titleX":266.2,"titlePadding":10}},
"y":{"field":"q","type":"quantitative","scale":{"domain":[1.45,10.79],"nice":false,"zero":false},"axis":{"values":[2,4,6,8],"grid":true,"gridWidth":1.5,"labels":false,"ticks":false,"title":null}},
"fill":{"field":"t","type":"nominal","scale":{"range":["#F8766D","#00BFC4"]},"legend":null},
"stroke":{"field":"t","type":"nominal","scale":{"range":["#F8766D","#00BFC4"]},"legend":null},
"size":{"field":"n","type":"quantitative","scale":{"domain":[1,6],"range":[44,90]},"legend":null},
"fillOpacity":{"field":"n","type":"quantitative","scale":{"domain":[1,6],"range":[0.15,0.72]},"legend":null},
"strokeOpacity":{"field":"n","type":"quantitative","scale":{"domain":[1,6],"range":[0.35,0]},"legend":null}}},
{"data":{"name":"lns"},"transform":[{"filter":"datum.p=='total_sulfur_dioxide'"}],"mark":{"type":"line","strokeWidth":3.2},"encoding":{"x":{"field":"x","type":"quantitative","axis":{"values":[50,150,250,350,450],"grid":true,"gridWidth":0.7,"labels":false,"ticks":false,"domain":false,"title":null,"orient":"top"}},"y":{"field":"q","type":"quantitative","axis":{"values":[3,5,7,9],"grid":true,"gridWidth":0.7,"labels":false,"ticks":false,"domain":false,"title":null,"orient":"right"}},"color":{"field":"type","type":"nominal","scale":{"domain":["red","white"],"range":["#F8766D","#00BFC4"]},"legend":{"title":"type","orient":"none","legendX":1104,"legendY":426}}}}
]},
{"width":259,"height":270,"resolve":{"axis":{"x":"independent","y":"independent"}},"layer":[
{"data":{"values":[{"s":"volatile_acidity"}]},"mark":{"type":"rect","fill":"#D9D9D9","stroke":"#333333","strokeWidth":1.1},"encoding":{"x":{"datum":0.005,"type":"quantitative","axis":null},"x2":{"datum":1.655},"y":{"datum":9.372,"type":"quantitative","axis":null},"y2":{"datum":10.79}}},
{"data":{"values":[{"s":"volatile_acidity"}]},"mark":{"type":"text","fontSize":19.5,"color":"#1A1A1A","baseline":"middle"},"encoding":{"x":{"datum":0.83,"type":"quantitative","axis":null},"y":{"datum":10.08,"type":"quantitative","axis":null},"text":{"field":"s"}}},
{"data":{"name":"pts"},"transform":[{"filter":"datum.p=='volatile_acidity'"},{"flatten":["x"]}],"mark":{"type":"point","filled":true,"strokeWidth":0.7},"encoding":{
"x":{"field":"x","type":"quantitative","scale":{"domain":[0.005,1.655],"nice":false,"zero":false},"axis":{"values":[0.4,0.8,1.2,1.6],"format":".1f","grid":true,"gridWidth":1.5,"title":null}},
"y":{"field":"q","type":"quantitative","scale":{"domain":[1.45,10.79],"nice":false,"zero":false},"axis":{"values":[2,4,6,8],"grid":true,"gridWidth":1.5,"labels":false,"ticks":false,"title":null}},
"fill":{"field":"t","type":"nominal","scale":{"range":["#F8766D","#00BFC4"]},"legend":null},
"stroke":{"field":"t","type":"nominal","scale":{"range":["#F8766D","#00BFC4"]},"legend":null},
"size":{"field":"n","type":"quantitative","scale":{"domain":[1,6],"range":[44,90]},"legend":null},
"fillOpacity":{"field":"n","type":"quantitative","scale":{"domain":[1,6],"range":[0.15,0.72]},"legend":null},
"strokeOpacity":{"field":"n","type":"quantitative","scale":{"domain":[1,6],"range":[0.35,0]},"legend":null}}},
{"data":{"name":"lns"},"transform":[{"filter":"datum.p=='volatile_acidity'"}],"mark":{"type":"line","strokeWidth":3.2},"encoding":{"x":{"field":"x","type":"quantitative","axis":{"values":[0.2,0.6,1.0,1.4],"grid":true,"gridWidth":0.7,"labels":false,"ticks":false,"domain":false,"title":null,"orient":"top"}},"y":{"field":"q","type":"quantitative","axis":{"values":[3,5,7,9],"grid":true,"gridWidth":0.7,"labels":false,"ticks":false,"domain":false,"title":null,"orient":"right"}},"color":{"field":"type","type":"nominal","scale":{"domain":["red","white"],"range":["#F8766D","#00BFC4"]},"legend":{"title":"type","orient":"none","legendX":1104,"legendY":426}}}}
]}
],
"config":{
"font":"Liberation Sans",
"view":{"stroke":"#333333","strokeWidth":1.1},
"axis":{"domain":false,"grid":true,"gridColor":"#EBEBEB","tickColor":"#333333","tickWidth":1.1,"tickSize":6,"labelFontSize":19.5,"labelColor":"#4D4D4D","labelPadding":4,"labelFlush":false,"labelOverlap":false,"labelBound":false,"titleFontSize":25,"titleFontWeight":"normal","titleColor":"#000000"},
"legend":{"padding":0,"titleFontSize":25,"titleFontWeight":"normal","titleColor":"#000000","labelFontSize":19.5,"labelColor":"#000000","symbolType":"stroke","symbolStrokeWidth":3.2,"symbolSize":625,"symbolOffset":14,"labelOffset":15,"rowPadding":7,"titlePadding":13}
}
}
